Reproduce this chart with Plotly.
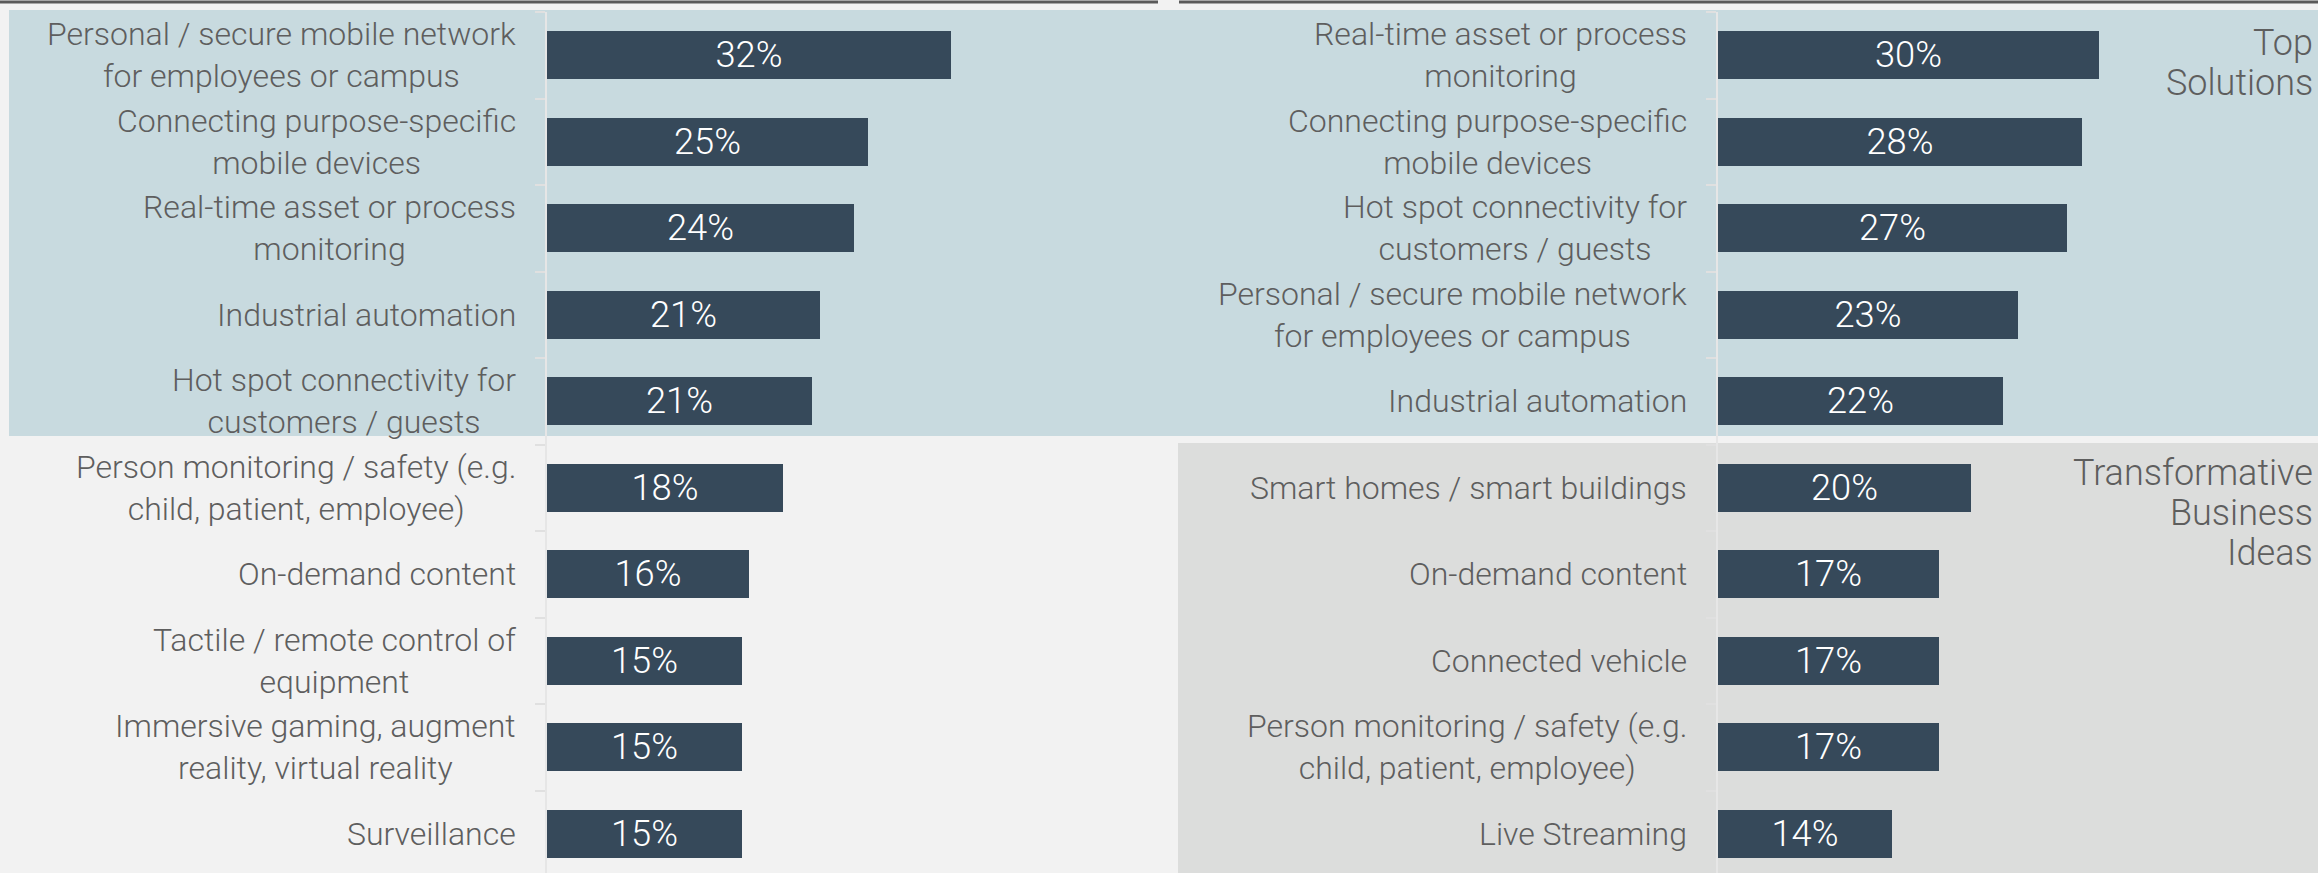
import plotly.graph_objects as go

W, H = 2318, 873

left_categories = [
    "Personal / secure mobile network<br>for employees or campus",
    "Connecting purpose-specific<br>mobile devices",
    "Real-time asset or process<br>monitoring",
    "Industrial automation",
    "Hot spot connectivity for<br>customers / guests",
    "Person monitoring / safety (e.g.<br>child, patient, employee)",
    "On-demand content",
    "Tactile / remote control of<br>equipment",
    "Immersive gaming, augment<br>reality, virtual reality",
    "Surveillance",
]
left_values = [31.6, 25.1, 24.0, 21.3, 20.7, 18.4, 15.8, 15.2, 15.2, 15.2]

right_categories = [
    "Real-time asset or process<br>monitoring",
    "Connecting purpose-specific<br>mobile devices",
    "Hot spot connectivity for<br>customers / guests",
    "Personal / secure mobile network<br>for employees or campus",
    "Industrial automation",
    "Smart homes / smart buildings",
    "On-demand content",
    "Connected vehicle",
    "Person monitoring / safety (e.g.<br>child, patient, employee)",
    "Live Streaming",
]
right_values = [29.8, 28.4, 27.3, 23.4, 22.3, 19.8, 17.3, 17.3, 17.3, 13.6]

group_top_lines = ["Top", "Solutions"]
group_bottom_lines = ["Transformative", "Business", "Ideas"]

BAR = "#36495a"
LABEL = "#5e5e5e"
FONT = "Roboto"

def px_x(p):
    return p / W

def px_y(p):
    return 1 - p / H

fig = go.Figure()
for vals, cats, xa, ya in [(left_values, left_categories, "x", "y"),
                           (right_values, right_categories, "x2", "y2")]:
    fig.add_trace(go.Bar(
        x=vals, y=list(range(len(cats))), orientation="h",
        marker=dict(color=BAR, line=dict(width=0)), width=0.555,
        texttemplate="%{x:.0f}%", textposition="inside", insidetextanchor="middle",
        textfont=dict(color="white", size=38, family=FONT, weight=300),
        xaxis=xa, yaxis=ya, showlegend=False, hoverinfo="skip",
    ))
    # category labels, centred multi-line text right-aligned against the axis
    for i, c in enumerate(cats):
        fig.add_annotation(
            text=c, xref=xa, yref=ya, x=0, y=i, xanchor="right", yanchor="middle",
            align="center", xshift=-29, showarrow=False,
            font=dict(family=FONT, size=32, color=LABEL, weight=300),
        )

ytop = 12
ydom = [0, px_y(ytop)]
plot_h = H - ytop
step = 86.5
yrange = [-0.5 + plot_h / step, -0.5]

yax = dict(
    range=yrange, domain=ydom,
    showline=True, linecolor="#e6e6e6", linewidth=2,
    ticks="outside", ticklen=10, tickcolor="#e0e0e0", tickwidth=2,
    tickmode="array", tickvals=[k - 0.5 for k in range(11)],
    showticklabels=False, showgrid=False, zeroline=False,
)
xax = dict(visible=False, showgrid=False, zeroline=False, fixedrange=True)

fig.update_layout(
    width=W, height=H,
    margin=dict(l=0, r=0, t=0, b=0),
    paper_bgcolor="#f2f2f2", plot_bgcolor="rgba(0,0,0,0)",
    bargap=0.0,
    xaxis=dict(xax, domain=[px_x(547), px_x(1160)], range=[0, 613 / 12.8], anchor="y"),
    yaxis=dict(yax, anchor="x"),
    xaxis2=dict(xax, domain=[px_x(1718), 1.0], range=[0, 600 / 12.8], anchor="y2"),
    yaxis2=dict(yax, anchor="x2"),
    font=dict(family=FONT),
)

shapes = [
    dict(type="rect", xref="paper", yref="paper", x0=px_x(9), x1=1.0, y0=px_y(436), y1=px_y(10),
         fillcolor="#c8dadf", line=dict(width=0), layer="below"),
    dict(type="rect", xref="paper", yref="paper", x0=px_x(1178), x1=1.0, y0=0, y1=px_y(443),
         fillcolor="#dcdddc", line=dict(width=0), layer="below"),
    dict(type="line", xref="paper", yref="paper", x0=0, x1=px_x(1158), y0=px_y(2), y1=px_y(2),
         line=dict(color="#5a5a5a", width=3)),
    dict(type="line", xref="paper", yref="paper", x0=px_x(1179), x1=1.0, y0=px_y(2), y1=px_y(2),
         line=dict(color="#5a5a5a", width=3)),
]
fig.update_layout(shapes=shapes)

for lines, top in [(group_top_lines, 20), (group_bottom_lines, 450)]:
    for k, line in enumerate(lines):
        fig.add_annotation(text=line, xref="paper", yref="paper",
                           x=px_x(2315), y=px_y(top + 40 * k), xanchor="right", yanchor="top",
                           align="right", showarrow=False,
                           font=dict(family=FONT, size=36, color=LABEL, weight=300))

fig.write_html(
    "out.html",
    config={"displayModeBar": False},
    post_script="document.body.style.margin='0';document.body.style.overflow='hidden';",
)
